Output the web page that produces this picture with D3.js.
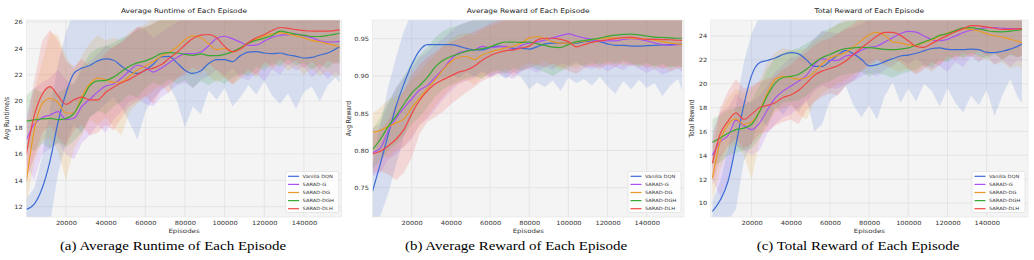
<!DOCTYPE html>
<html>
<head>
<meta charset="utf-8">
<script src="https://d3js.org/d3.v7.min.js"></script>
<style>
  body { margin: 0; background: #fff; }
  svg { display: block; }
</style>
</head>
<body>
<script>
// ---- data ----
var episodes = [0, 4000, 8000, 12000, 16000, 20000, 24000, 28000, 32000, 36000,
  40000, 44000, 48000, 52000, 56000, 60000, 64000, 68000, 72000, 76000,
  80000, 84000, 88000, 92000, 96000, 100000, 104000, 108000, 112000, 116000,
  120000, 124000, 128000, 132000, 136000, 140000, 144000, 148000, 152000, 156000, 158000];

var seriesNames = ["Vanilla DQN", "SARAD-G", "SARAD-DG", "SARAD-DGH", "SARAD-DLH"];
var xTicks = [20000, 40000, 60000, 80000, 100000, 120000, 140000];
var runtimeTicks = [12, 14, 16, 18, 20, 22, 24, 26];
var rewardTicks = [0.75, 0.80, 0.85, 0.90, 0.95];
var totalTicks = [10, 12, 14, 16, 18, 20, 22, 24];

// order of rows: Vanilla DQN, SARAD-G, SARAD-DG, SARAD-DGH, SARAD-DLH
var runtimeMean = [
  [11.8, 12.2, 13.4, 15.5, 18.4, 20.6, 22.1, 22.5, 22.7, 23.05, 23.2, 23.1, 22.65, 22.25, 22.1, 22.35, 22.8, 23.35, 23.4, 22.9, 22.35, 22.1, 22.3, 22.85, 23.15, 23.15, 23.0, 23.45, 23.72, 23.75, 23.65, 23.6, 23.65, 23.5, 23.4, 23.27, 23.32, 23.5, 23.65, 23.95, 24.15],
  [17.06, 18.25, 18.75, 18.95, 19.2, 18.6, 18.7, 19.6, 20.15, 20.7, 21.15, 21.3, 21.75, 22.3, 22.72, 22.55, 22.2, 22.5, 22.9, 23.3, 23.6, 23.6, 23.72, 24.2, 24.75, 24.92, 24.72, 24.47, 24.23, 24.25, 24.55, 24.85, 24.98, 25.03, 25.08, 24.95, 24.8, 24.58, 24.48, 24.5, 24.53],
  [13.9, 17.8, 19.8, 20.2, 19.9, 19.1, 19.1, 20.35, 21.3, 21.75, 21.62, 21.42, 21.45, 21.9, 22.34, 22.65, 23.0, 23.4, 23.7, 24.1, 24.65, 24.95, 24.8, 24.35, 23.9, 24.0, 23.72, 24.05, 24.4, 24.7, 24.95, 25.1, 25.18, 25.08, 24.95, 24.8, 24.6, 24.5, 24.35, 24.2, 24.1],
  [18.49, 18.58, 18.65, 18.69, 18.6, 18.67, 19.07, 20.1, 21.15, 21.53, 21.58, 21.82, 22.25, 22.65, 22.9, 23.05, 23.3, 23.6, 23.68, 23.65, 23.55, 23.47, 23.58, 23.45, 23.45, 23.55, 23.75, 24.05, 24.4, 24.62, 24.78, 24.98, 25.3, 25.2, 25.07, 25.0, 24.9, 24.9, 24.98, 25.08, 25.15],
  [16.0, 18.9, 20.5, 21.1, 20.4, 19.75, 20.1, 20.3, 20.1, 20.1, 20.65, 21.05, 21.4, 21.65, 22.0, 22.35, 22.5, 22.75, 23.25, 23.7, 24.25, 24.75, 25.0, 25.05, 24.8, 24.15, 23.75, 23.95, 24.45, 24.8, 25.05, 25.36, 25.58, 25.52, 25.42, 25.35, 25.3, 25.3, 25.3, 25.36, 25.4]
];
var runtimeLow = [
  [10.8, 10.8, 10.8, 10.8, 14.5, 16.8, 18.2, 17.6, 18.8, 19.2, 19.8, 20.3, 19.5, 18.4, 17.1, 19.2, 20.2, 20.8, 21.2, 20.0, 18.0, 19.6, 19.0, 20.8, 20.1, 21.0, 19.6, 20.3, 21.2, 20.5, 21.5, 20.4, 19.8, 20.6, 19.4, 20.7, 21.1, 20.0, 21.2, 21.8, 21.4],
  [15.2, 14.0, 16.0, 16.4, 16.8, 16.0, 15.6, 16.8, 17.4, 18.2, 17.6, 18.6, 19.2, 20.0, 20.2, 19.8, 19.6, 20.3, 20.7, 21.2, 21.4, 21.0, 21.6, 21.9, 22.4, 22.0, 22.5, 21.8, 21.6, 22.1, 21.5, 22.4, 22.0, 22.8, 22.3, 22.6, 21.8, 22.3, 21.7, 22.2, 22.0],
  [12.0, 15.4, 17.0, 17.2, 16.2, 14.0, 16.4, 17.4, 18.6, 18.2, 18.8, 18.0, 17.4, 19.2, 19.8, 20.3, 20.8, 21.2, 20.6, 21.8, 22.3, 22.0, 22.6, 21.9, 21.4, 21.8, 21.2, 21.7, 22.2, 21.8, 22.7, 22.4, 22.9, 22.3, 22.6, 22.0, 22.5, 21.9, 22.3, 21.8, 22.0],
  [16.6, 16.2, 16.8, 16.4, 16.9, 16.5, 17.0, 17.6, 18.8, 19.3, 19.0, 19.6, 20.0, 20.5, 20.3, 21.0, 21.4, 21.2, 21.7, 21.3, 21.6, 21.0, 21.5, 21.2, 21.6, 21.3, 21.8, 22.1, 21.9, 22.6, 22.3, 22.9, 22.6, 23.2, 22.7, 22.9, 22.4, 22.8, 22.5, 23.0, 22.8],
  [14.0, 15.8, 17.6, 18.2, 17.2, 16.6, 17.8, 18.2, 17.4, 17.6, 18.2, 17.8, 18.7, 19.6, 20.0, 20.4, 19.8, 20.9, 21.3, 21.7, 22.0, 22.6, 22.1, 22.9, 22.3, 21.8, 21.3, 21.9, 22.4, 22.0, 23.0, 22.6, 23.2, 22.7, 23.1, 22.5, 23.0, 22.4, 23.1, 22.8, 23.0]
];
var runtimeHigh = [
  [12.6, 13.4, 15.8, 19.5, 22.8, 25.2, 26.8, 27, 27, 27, 26.8, 27, 26.6, 26.2, 26.8, 27, 27, 27, 27, 26.8, 26.2, 26.5, 26.9, 27, 27, 27, 26.8, 27, 27, 27, 27, 27, 27, 27, 26.8, 26.6, 27, 27, 27, 27, 27],
  [19.0, 21.0, 21.4, 21.8, 22.4, 21.6, 21.2, 22.4, 23.0, 23.6, 24.2, 24.0, 24.6, 25.0, 25.6, 25.4, 24.8, 25.2, 25.6, 26.0, 26.4, 26.5, 26.8, 27, 27, 27, 27, 27, 27, 27, 27, 27, 27, 27, 27, 27, 27, 27, 27, 27, 27],
  [15.8, 20.6, 23.0, 25.2, 25.0, 23.4, 22.4, 23.4, 24.4, 25.0, 24.6, 24.8, 24.6, 25.2, 25.6, 25.8, 26.3, 26.6, 27, 27, 27, 27, 27, 27, 27, 27, 27, 27, 27, 27, 27, 27, 27, 27, 27, 27, 27, 27, 27, 27, 27],
  [20.4, 21.0, 20.6, 21.2, 20.6, 21.0, 21.4, 22.6, 23.6, 24.0, 24.2, 24.4, 24.8, 25.0, 25.4, 25.6, 25.8, 26.2, 26.4, 26.6, 26.5, 26.4, 26.6, 26.5, 26.6, 26.8, 27, 27, 27, 27, 27, 27, 27, 27, 27, 27, 27, 27, 27, 27, 27],
  [18.2, 21.5, 24.6, 25.4, 24.6, 23.0, 22.6, 23.2, 22.6, 23.0, 23.6, 24.2, 24.4, 25.0, 25.6, 25.6, 25.9, 26.3, 26.5, 27, 27, 27, 27, 27, 27, 27, 27, 27, 27, 27, 27, 27, 27, 27, 27, 27, 27, 27, 27, 27, 27]
];

var rewardMean = [
  [0.745, 0.782, 0.821, 0.859, 0.889, 0.915, 0.934, 0.942, 0.942, 0.942, 0.942, 0.940, 0.937, 0.935, 0.935, 0.938, 0.940, 0.939, 0.937, 0.937, 0.936, 0.939, 0.943, 0.944, 0.944, 0.944, 0.944, 0.946, 0.947, 0.946, 0.943, 0.941, 0.941, 0.940, 0.940, 0.9405, 0.941, 0.9415, 0.942, 0.9425, 0.9425],
  [0.797, 0.803, 0.826, 0.843, 0.857, 0.869, 0.881, 0.887, 0.898, 0.909, 0.922, 0.931, 0.9335, 0.935, 0.9395, 0.938, 0.939, 0.9395, 0.935, 0.941, 0.944, 0.9457, 0.948, 0.951, 0.954, 0.9563, 0.9535, 0.951, 0.949, 0.947, 0.947, 0.947, 0.949, 0.950, 0.949, 0.947, 0.9443, 0.942, 0.941, 0.942, 0.942],
  [0.8245, 0.827, 0.832, 0.837, 0.842, 0.857, 0.870, 0.883, 0.895, 0.908, 0.919, 0.925, 0.926, 0.922, 0.928, 0.932, 0.935, 0.9375, 0.940, 0.944, 0.951, 0.9525, 0.950, 0.946, 0.944, 0.944, 0.945, 0.9465, 0.9485, 0.950, 0.951, 0.951, 0.951, 0.9505, 0.950, 0.949, 0.948, 0.946, 0.944, 0.943, 0.942],
  [0.801, 0.815, 0.832, 0.846, 0.862, 0.877, 0.887, 0.898, 0.912, 0.921, 0.926, 0.9295, 0.9333, 0.935, 0.9365, 0.939, 0.943, 0.9455, 0.9452, 0.945, 0.9455, 0.943, 0.941, 0.9385, 0.938, 0.942, 0.946, 0.9475, 0.949, 0.9508, 0.953, 0.9546, 0.9558, 0.956, 0.955, 0.9535, 0.952, 0.9515, 0.951, 0.9505, 0.9505],
  [0.7955, 0.799, 0.806, 0.815, 0.828, 0.849, 0.867, 0.880, 0.889, 0.895, 0.900, 0.905, 0.908, 0.913, 0.921, 0.927, 0.931, 0.934, 0.935, 0.9375, 0.940, 0.948, 0.9505, 0.9505, 0.949, 0.946, 0.939, 0.942, 0.945, 0.947, 0.9485, 0.950, 0.9515, 0.952, 0.9505, 0.949, 0.949, 0.9487, 0.9485, 0.9478, 0.9475]
];
var rewardLow = [
  [0.705, 0.712, 0.742, 0.780, 0.818, 0.846, 0.868, 0.878, 0.893, 0.898, 0.902, 0.897, 0.905, 0.899, 0.907, 0.900, 0.904, 0.896, 0.906, 0.898, 0.882, 0.891, 0.885, 0.894, 0.880, 0.898, 0.890, 0.896, 0.887, 0.899, 0.886, 0.876, 0.893, 0.882, 0.895, 0.884, 0.890, 0.873, 0.887, 0.896, 0.880],
  [0.765, 0.770, 0.788, 0.795, 0.805, 0.815, 0.835, 0.842, 0.855, 0.868, 0.880, 0.889, 0.893, 0.897, 0.902, 0.898, 0.904, 0.899, 0.896, 0.906, 0.910, 0.904, 0.913, 0.908, 0.917, 0.914, 0.920, 0.912, 0.909, 0.913, 0.906, 0.912, 0.908, 0.915, 0.910, 0.904, 0.909, 0.902, 0.906, 0.910, 0.905],
  [0.800, 0.795, 0.790, 0.800, 0.805, 0.818, 0.832, 0.845, 0.860, 0.872, 0.885, 0.890, 0.895, 0.888, 0.898, 0.903, 0.906, 0.910, 0.905, 0.913, 0.918, 0.914, 0.920, 0.912, 0.908, 0.914, 0.910, 0.916, 0.912, 0.918, 0.914, 0.919, 0.913, 0.917, 0.911, 0.915, 0.909, 0.913, 0.906, 0.911, 0.908],
  [0.775, 0.786, 0.800, 0.808, 0.820, 0.835, 0.845, 0.858, 0.872, 0.882, 0.888, 0.892, 0.897, 0.900, 0.896, 0.905, 0.908, 0.903, 0.911, 0.907, 0.913, 0.909, 0.905, 0.900, 0.906, 0.911, 0.916, 0.913, 0.918, 0.914, 0.920, 0.916, 0.921, 0.917, 0.913, 0.918, 0.912, 0.916, 0.911, 0.914, 0.912],
  [0.770, 0.772, 0.768, 0.760, 0.770, 0.790, 0.822, 0.838, 0.845, 0.852, 0.862, 0.870, 0.878, 0.885, 0.893, 0.898, 0.902, 0.905, 0.900, 0.908, 0.910, 0.915, 0.911, 0.917, 0.912, 0.907, 0.903, 0.910, 0.914, 0.909, 0.916, 0.912, 0.918, 0.913, 0.917, 0.910, 0.915, 0.909, 0.914, 0.911, 0.913]
];
var rewardHigh = [
  [0.780, 0.835, 0.885, 0.925, 0.960, 0.985, 0.99, 0.99, 0.99, 0.99, 0.99, 0.99, 0.99, 0.99, 0.99, 0.99, 0.99, 0.99, 0.99, 0.99, 0.99, 0.99, 0.99, 0.99, 0.99, 0.99, 0.99, 0.99, 0.99, 0.99, 0.99, 0.99, 0.99, 0.99, 0.99, 0.99, 0.99, 0.99, 0.99, 0.99, 0.99],
  [0.830, 0.836, 0.862, 0.885, 0.898, 0.910, 0.925, 0.932, 0.942, 0.950, 0.960, 0.968, 0.972, 0.975, 0.985, 0.985, 0.985, 0.985, 0.985, 0.985, 0.985, 0.985, 0.985, 0.985, 0.985, 0.985, 0.985, 0.985, 0.985, 0.985, 0.985, 0.985, 0.985, 0.985, 0.985, 0.985, 0.985, 0.985, 0.985, 0.985, 0.985],
  [0.850, 0.858, 0.868, 0.872, 0.880, 0.895, 0.905, 0.918, 0.928, 0.940, 0.950, 0.956, 0.958, 0.955, 0.962, 0.967, 0.970, 0.975, 0.985, 0.985, 0.985, 0.985, 0.985, 0.985, 0.985, 0.985, 0.985, 0.985, 0.985, 0.985, 0.985, 0.985, 0.985, 0.985, 0.985, 0.985, 0.985, 0.985, 0.985, 0.985, 0.985],
  [0.828, 0.845, 0.865, 0.882, 0.900, 0.918, 0.928, 0.938, 0.952, 0.960, 0.965, 0.968, 0.972, 0.975, 0.985, 0.985, 0.985, 0.985, 0.985, 0.985, 0.985, 0.985, 0.985, 0.985, 0.985, 0.985, 0.985, 0.985, 0.985, 0.985, 0.985, 0.985, 0.985, 0.985, 0.985, 0.985, 0.985, 0.985, 0.985, 0.985, 0.985],
  [0.822, 0.826, 0.840, 0.862, 0.880, 0.902, 0.915, 0.925, 0.932, 0.940, 0.945, 0.950, 0.955, 0.960, 0.965, 0.970, 0.975, 0.985, 0.985, 0.985, 0.985, 0.985, 0.985, 0.985, 0.985, 0.985, 0.985, 0.985, 0.985, 0.985, 0.985, 0.985, 0.985, 0.985, 0.985, 0.985, 0.985, 0.985, 0.985, 0.985, 0.985]
];

var totalMean = [
  [9.3, 10.25, 11.85, 14.9, 18.2, 20.7, 21.75, 21.95, 22.15, 22.45, 22.6, 22.5, 22.0, 21.45, 21.45, 21.9, 22.4, 22.8, 22.5, 22.05, 21.5, 21.6, 21.85, 22.1, 22.32, 22.4, 22.55, 22.75, 22.95, 23.0, 22.88, 22.85, 22.85, 22.9, 22.85, 22.62, 22.6, 22.72, 22.9, 23.15, 23.35],
  [14.0, 15.15, 15.65, 16.95, 16.5, 16.15, 16.7, 17.8, 18.8, 19.38, 19.8, 20.22, 20.7, 21.6, 22.1, 21.95, 21.95, 22.32, 22.42, 22.8, 23.05, 23.16, 23.5, 23.85, 24.2, 24.38, 24.32, 24.0, 23.7, 23.6, 23.72, 24.0, 24.28, 24.48, 24.6, 24.7, 24.7, 24.65, 24.61, 24.61, 24.61],
  [12.1, 15.2, 16.6, 17.05, 16.6, 16.8, 17.7, 19.2, 20.35, 20.62, 20.5, 20.38, 20.5, 20.95, 21.65, 22.15, 22.4, 22.62, 23.08, 23.6, 24.1, 24.3, 24.05, 23.5, 23.43, 23.25, 23.2, 23.45, 23.67, 23.98, 24.25, 24.45, 24.6, 24.55, 24.42, 24.2, 24.02, 23.9, 23.73, 23.55, 23.45],
  [15.1, 15.45, 15.85, 16.15, 16.28, 16.6, 17.65, 19.0, 20.05, 20.52, 20.62, 20.8, 21.22, 21.75, 22.2, 22.45, 22.75, 22.95, 23.0, 23.05, 23.02, 22.96, 22.88, 22.85, 22.9, 23.0, 23.25, 23.5, 23.75, 24.05, 24.2, 24.45, 24.68, 24.7, 24.6, 24.45, 24.36, 24.35, 24.4, 24.48, 24.53],
  [13.35, 15.8, 16.87, 17.55, 17.0, 17.45, 18.0, 18.18, 18.4, 18.85, 19.06, 19.45, 20.05, 20.7, 21.06, 21.28, 21.5, 21.9, 22.45, 23.0, 23.5, 24.0, 24.3, 24.3, 24.05, 23.6, 23.12, 23.05, 23.38, 23.72, 24.05, 24.35, 24.62, 24.87, 24.85, 24.75, 24.65, 24.55, 24.56, 24.59, 24.61]
];
var totalLow = [
  [8.5, 8.5, 8.5, 9.5, 13.5, 15.0, 17.2, 16.4, 18.2, 17.4, 18.3, 17.6, 18.8, 16.0, 16.6, 18.6, 19.1, 19.8, 18.2, 17.2, 18.2, 17.0, 19.0, 20.1, 18.4, 19.6, 18.5, 20.0, 19.4, 18.1, 19.6, 18.4, 17.6, 19.0, 18.2, 19.5, 17.3, 19.0, 20.4, 18.8, 18.4],
  [12.0, 10.5, 11.8, 14.8, 14.4, 14.0, 14.4, 15.8, 16.6, 17.2, 17.4, 18.0, 18.4, 19.4, 19.8, 19.6, 19.6, 20.0, 20.2, 20.6, 20.9, 20.6, 21.2, 21.5, 22.0, 21.6, 22.2, 21.5, 21.2, 21.5, 21.0, 21.8, 21.4, 22.3, 21.8, 22.4, 21.6, 22.0, 21.4, 22.0, 21.8],
  [10.2, 12.8, 14.6, 15.0, 14.0, 12.0, 15.2, 16.4, 17.6, 18.0, 18.2, 17.4, 17.0, 18.4, 19.2, 19.6, 20.0, 20.3, 20.8, 21.2, 21.8, 22.1, 21.6, 21.2, 21.0, 21.3, 20.9, 21.4, 21.0, 21.7, 22.0, 22.3, 22.1, 22.4, 21.9, 22.1, 21.6, 21.8, 21.3, 21.5, 21.2],
  [13.2, 13.4, 14.0, 14.2, 14.4, 14.6, 15.4, 16.8, 17.8, 18.4, 18.5, 18.6, 19.0, 19.6, 20.0, 20.2, 20.6, 20.8, 20.9, 21.0, 20.6, 20.9, 20.7, 20.5, 20.8, 21.0, 21.2, 21.6, 21.4, 22.0, 21.8, 22.4, 22.2, 22.6, 22.3, 22.1, 22.5, 22.0, 22.4, 22.2, 22.4],
  [11.5, 13.8, 14.8, 15.4, 14.6, 15.0, 15.8, 16.0, 16.5, 16.8, 17.0, 16.6, 17.8, 18.5, 18.9, 19.2, 19.0, 19.8, 20.3, 21.0, 21.5, 22.0, 21.6, 22.3, 21.8, 21.2, 20.8, 21.2, 21.8, 21.5, 22.3, 22.0, 22.6, 22.2, 22.8, 22.3, 22.6, 22.0, 22.5, 22.2, 22.4]
];
var totalHigh = [
  [10.2, 11.8, 14.6, 18.2, 21.8, 24.2, 25.6, 26, 26, 26, 26, 26, 26, 26, 26, 26, 26, 26, 26, 26, 26, 26, 26, 26, 26, 26, 26, 26, 26, 26, 26, 26, 26, 26, 26, 26, 26, 26, 26, 26, 26],
  [16.0, 17.6, 18.0, 19.2, 18.6, 18.4, 19.0, 19.8, 21.0, 21.6, 22.2, 22.4, 23.0, 23.8, 24.4, 24.3, 24.2, 24.6, 24.7, 25.0, 25.4, 26, 26, 26, 26, 26, 26, 26, 26, 26, 26, 26, 26, 26, 26, 26, 26, 26, 26, 26, 26],
  [14.0, 17.6, 18.8, 19.6, 19.2, 19.6, 20.2, 21.8, 22.6, 23.0, 22.8, 22.8, 23.0, 23.6, 24.0, 24.6, 25.0, 25.4, 26, 26, 26, 26, 26, 26, 26, 26, 26, 26, 26, 26, 26, 26, 26, 26, 26, 26, 26, 26, 26, 26, 26],
  [17.0, 17.4, 17.8, 18.0, 18.2, 18.6, 19.8, 21.2, 22.2, 22.6, 22.8, 23.0, 23.4, 23.8, 24.4, 24.6, 25.0, 25.2, 25.3, 25.4, 26, 26, 26, 26, 26, 26, 26, 26, 26, 26, 26, 26, 26, 26, 26, 26, 26, 26, 26, 26, 26],
  [15.2, 18.0, 19.4, 20.4, 19.6, 19.8, 20.2, 20.4, 20.6, 21.2, 21.6, 22.2, 22.6, 23.2, 23.6, 23.8, 24.2, 24.6, 25.0, 25.6, 26, 26, 26, 26, 26, 26, 26, 26, 26, 26, 26, 26, 26, 26, 26, 26, 26, 26, 26, 26, 26]
];

// ---- styling / layout ----
var colors = ["#3b6bd6", "#a852f2", "#e99a26", "#38a832", "#f04646"];
var FONT = "DejaVu Sans, sans-serif";
var SX = 1.17; // the original figure is stretched horizontally
var plotTop = 20, plotBottom = 217;

var panels = [
  { title: "Average Runtime of Each Episode", yLabel: "Avg Runtime/s", caption: "(a) Average Runtime of Each Episode",
    mean: runtimeMean, low: runtimeLow, high: runtimeHigh, yTicks: runtimeTicks, yFormat: d3.format("d"),
    yDomain: [11.22, 26.15], xDomain: [0, 159000], left: 26.3, right: 341.6, yLabelX: 9, captionX: 173 },
  { title: "Average Reward of Each Episode", yLabel: "Avg Reward", caption: "(b) Average Reward of Each Episode",
    mean: rewardMean, low: rewardLow, high: rewardHigh, yTicks: rewardTicks, yFormat: d3.format(".2f"),
    yDomain: [0.7107, 0.975], xDomain: [0, 159000], left: 372.5, right: 684, yLabelX: 351, captionX: 516 },
  { title: "Total Reward of Each Episode", yLabel: "Total Reward", caption: "(c) Total Reward of Each Episode",
    mean: totalMean, low: totalLow, high: totalHigh, yTicks: totalTicks, yFormat: d3.format("d"),
    yDomain: [8.83, 25.34], xDomain: [-900, 161100], left: 710.7, right: 1028, yLabelX: 693.5, captionX: 858 }
];

var svg = d3.select("body").append("svg")
    .attr("width", 1034)
    .attr("height", 260);

function label(parent, x, y, str, size, opts) {
  opts = opts || {};
  return parent.append("text")
      .attr("transform", "translate(" + x + "," + y + ") scale(" + SX + ",1)" + (opts.rotate ? " rotate(" + opts.rotate + ")" : ""))
      .attr("text-anchor", opts.anchor || "middle")
      .attr("font-family", opts.family || FONT)
      .attr("font-size", size)
      .attr("fill", opts.fill || "#222")
      .text(str);
}

panels.forEach(function(p, pi) {
  var x = d3.scaleLinear().domain(p.xDomain).range([p.left, p.right]);
  var y = d3.scaleLinear().domain(p.yDomain).range([plotBottom, plotTop]);
  var g = svg.append("g");

  g.append("rect")
      .attr("x", p.left).attr("y", plotTop)
      .attr("width", p.right - p.left).attr("height", plotBottom - plotTop)
      .attr("fill", "#f4f4f4");

  svg.append("clipPath").attr("id", "clip" + pi)
    .append("rect")
      .attr("x", p.left).attr("y", plotTop)
      .attr("width", p.right - p.left).attr("height", plotBottom - plotTop);

  // grid
  g.append("g").selectAll("line").data(xTicks).join("line")
      .attr("x1", function(d) { return x(d); }).attr("x2", function(d) { return x(d); })
      .attr("y1", plotTop).attr("y2", plotBottom)
      .attr("stroke", "#e1e1e1").attr("stroke-width", 0.8);
  g.append("g").selectAll("line").data(p.yTicks).join("line")
      .attr("x1", p.left).attr("x2", p.right)
      .attr("y1", function(d) { return y(d); }).attr("y2", function(d) { return y(d); })
      .attr("stroke", "#e1e1e1").attr("stroke-width", 0.8);

  var plot = g.append("g").attr("clip-path", "url(#clip" + pi + ")");

  // shaded spread of every run
  seriesNames.forEach(function(name, s) {
    var area = d3.area()
        .x(function(d, i) { return x(episodes[i]); })
        .y0(function(d, i) { return y(p.low[s][i]); })
        .y1(function(d, i) { return y(p.high[s][i]); });
    plot.append("path")
        .attr("d", area(episodes))
        .attr("fill", colors[s])
        .attr("fill-opacity", 0.16);
  });

  // mean curves
  seriesNames.forEach(function(name, s) {
    var line = d3.line()
        .curve(d3.curveMonotoneX)
        .x(function(d, i) { return x(episodes[i]); })
        .y(function(d) { return y(d); });
    plot.append("path")
        .attr("d", line(p.mean[s]))
        .attr("fill", "none")
        .attr("stroke", colors[s])
        .attr("stroke-width", 1.2);
  });

  g.append("rect")
      .attr("x", p.left).attr("y", plotTop)
      .attr("width", p.right - p.left).attr("height", plotBottom - plotTop)
      .attr("fill", "none").attr("stroke", "#e4e4e4").attr("stroke-width", 0.6);

  // axes (d3.axis sets its own font, so override afterwards)
  var xAxis = g.append("g")
      .attr("transform", "translate(0," + plotBottom + ")")
      .call(d3.axisBottom(x).tickValues(xTicks).tickFormat(d3.format("d")).tickSize(0).tickPadding(4.2));
  xAxis.attr("font-family", FONT).attr("font-size", 5.7);
  xAxis.select(".domain").remove();
  xAxis.selectAll("text").attr("fill", "#333").attr("transform", "scale(" + SX + ",1)");

  var yAxis = g.append("g")
      .attr("transform", "translate(" + p.left + ",0)")
      .call(d3.axisLeft(y).tickValues(p.yTicks).tickFormat(p.yFormat).tickSize(0).tickPadding(3));
  yAxis.attr("font-family", FONT).attr("font-size", 5.7);
  yAxis.select(".domain").remove();
  yAxis.selectAll("text").attr("fill", "#333").attr("transform", "scale(" + SX + ",1)");

  var cx = (p.left + p.right) / 2;
  label(g, cx, 12.6, p.title, 6.4);
  label(g, cx, 233.2, "Episodes", 6, { fill: "#333" });
  label(g, p.yLabelX, (plotTop + plotBottom) / 2, p.yLabel, 6, { rotate: -90, fill: "#333" });
  label(g, p.captionX, 249.5, p.caption, 12.8, { family: "Liberation Serif, Times New Roman, serif", fill: "#000" });

  // legend
  var lw = 53, lh = 41;
  var lx = p.right - 3 - lw, ly = plotBottom - 4.5 - lh;
  var legend = g.append("g");
  legend.append("rect")
      .attr("x", lx).attr("y", ly).attr("width", lw).attr("height", lh).attr("rx", 1.5)
      .attr("fill", "#fff").attr("fill-opacity", 0.8)
      .attr("stroke", "#d4d4d4").attr("stroke-width", 0.5);
  seriesNames.forEach(function(name, s) {
    var ey = ly + 4.8 + s * 8.1;
    legend.append("line")
        .attr("x1", lx + 2.5).attr("x2", lx + 13.5)
        .attr("y1", ey).attr("y2", ey)
        .attr("stroke", colors[s]).attr("stroke-width", 1.2);
    label(legend, lx + 17, ey + 1.6, name, 4.4, { anchor: "start", fill: "#333" });
  });
});
</script>
</body>
</html>
